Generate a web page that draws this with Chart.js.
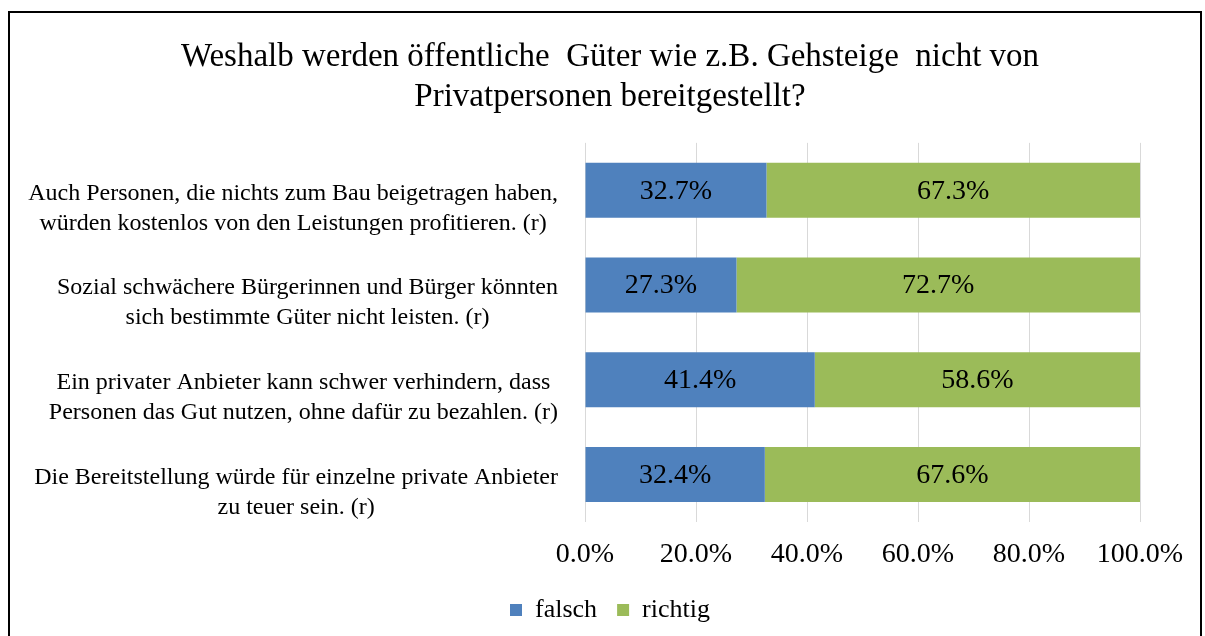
<!DOCTYPE html>
<html>
<head>
    <title>Öffentliche Güter</title>
    <script src="https://cdn.jsdelivr.net/npm/chart.js"></script>
    <style>
        body { margin: 0; background: #fff; }
        #frame { position: absolute; left: 8px; top: 11px; width: 1190px; height: 700px; border: 2px solid #000; }
        #wrap { position: absolute; left: 0; top: 0; width: 1205px; height: 636px; }
    </style>
</head>
<body>
    <div id="frame"></div>
    <div id="wrap"><canvas id="chart"></canvas></div>

    <script>
        const categories = [
            ['Auch Personen, die nichts zum Bau beigetragen haben,', 'würden kostenlos von den Leistungen profitieren. (r)'],
            ['Sozial schwächere Bürgerinnen und Bürger könnten', 'sich bestimmte Güter nicht leisten. (r)'],
            ['Ein privater Anbieter kann schwer verhindern, dass', 'Personen das Gut nutzen, ohne dafür zu bezahlen. (r)'],
            ['Die Bereitstellung würde für einzelne private Anbieter', 'zu teuer sein. (r)']
        ];
        const falsch = [32.7, 27.3, 41.4, 32.4];
        const richtig = [67.3, 72.7, 58.6, 67.6];
        const xTicks = [0, 20, 40, 60, 80, 100];

        const serif = "'Liberation Serif', 'Times New Roman', serif";

        // category labels: lines centred on each other, block right-aligned
        const catLabels = {
            id: 'catLabels',
            afterDraw(chart) {
                const ctx = chart.ctx;
                const y = chart.scales.y;
                ctx.save();
                ctx.font = '24px ' + serif;
                ctx.fillStyle = '#000';
                ctx.textAlign = 'center';
                ctx.textBaseline = 'middle';
                categories.forEach((lines, i) => {
                    const w = Math.max(...lines.map(l => ctx.measureText(l).width));
                    const cx = 558 - w / 2;
                    const cy = y.getPixelForTick(i);
                    lines.forEach((l, j) => {
                        ctx.fillText(l, cx, cy + 3 + j * 30);
                    });
                });
                ctx.restore();
            }
        };

        const barLabels = {
            id: 'barLabels',
            afterDatasetsDraw(chart) {
                const ctx = chart.ctx;
                ctx.save();
                ctx.font = '28px ' + serif;
                ctx.fillStyle = '#000';
                ctx.textAlign = 'center';
                ctx.textBaseline = 'middle';
                chart.data.datasets.forEach((ds, di) => {
                    chart.getDatasetMeta(di).data.forEach((bar, i) => {
                        const p = bar.getProps(['x', 'y', 'base'], true);
                        ctx.fillText(ds.data[i].toFixed(1) + '%', (p.x + p.base) / 2, p.y + 1);
                    });
                });
                ctx.restore();
            }
        };

        new Chart(document.getElementById('chart'), {
            type: 'bar',
            data: {
                labels: categories,
                datasets: [
                    { label: 'falsch', data: falsch, backgroundColor: '#4F81BD' },
                    { label: 'richtig', data: richtig, backgroundColor: '#9BBB59' }
                ]
            },
            options: {
                indexAxis: 'y',
                responsive: true,
                maintainAspectRatio: false,
                animation: false,
                layout: { padding: { left: 80, right: 65, top: 0, bottom: 3 } },
                datasets: { bar: { barPercentage: 0.58, categoryPercentage: 1 } },
                scales: {
                    x: {
                        stacked: true,
                        min: 0,
                        max: 100,
                        afterBuildTicks(scale) { scale.ticks = xTicks.map(v => ({ value: v })); },
                        afterFit(scale) { scale.height = 55; },
                        grid: { color: '#D9D9D9', drawTicks: false },
                        border: { display: false },
                        ticks: {
                            padding: 16,
                            color: '#000',
                            font: { family: serif, size: 28 },
                            callback: v => v.toFixed(1) + '%'
                        }
                    },
                    y: {
                        stacked: true,
                        afterFit(scale) { scale.width = 505; },
                        grid: { display: false },
                        border: { display: false },
                        ticks: { display: false }
                    }
                },
                plugins: {
                    title: {
                        display: true,
                        text: ['Weshalb werden öffentliche  Güter wie z.B. Gehsteige  nicht von', 'Privatpersonen bereitgestellt?'],
                        color: '#000',
                        font: { family: serif, size: 33, weight: 'normal', lineHeight: 1.21 },
                        padding: { top: 37, bottom: 26 }
                    },
                    legend: {
                        position: 'bottom',
                        labels: {
                            color: '#000',
                            boxWidth: 12,
                            boxHeight: 12,
                            padding: 20,
                            font: { family: serif, size: 26 }
                        }
                    },
                    tooltip: { enabled: false }
                }
            },
            plugins: [catLabels, barLabels]
        });
    </script>
</body>
</html>
